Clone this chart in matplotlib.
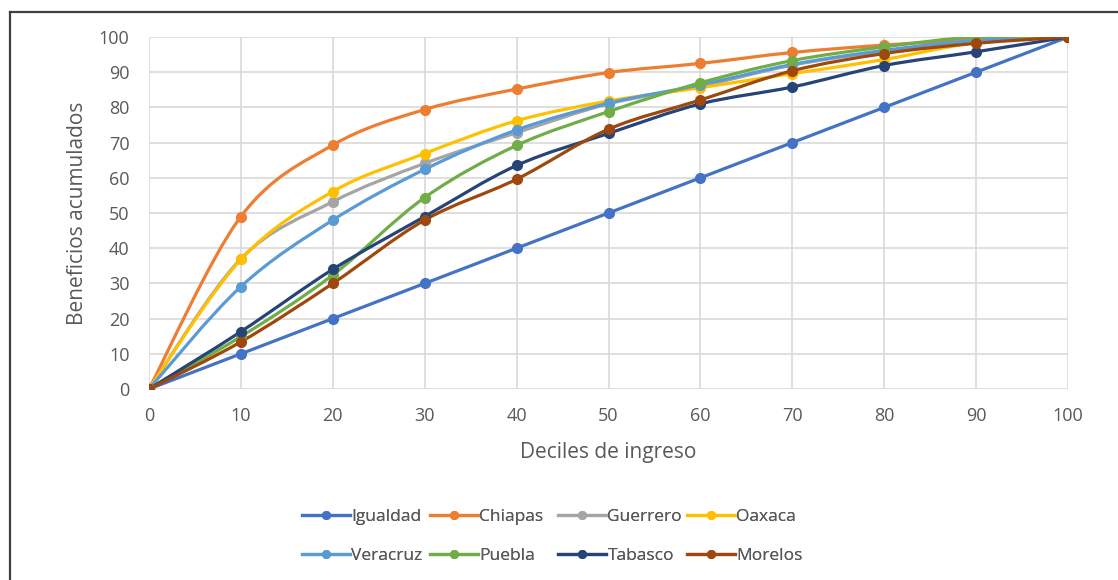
import matplotlib
matplotlib.use("Agg")
import matplotlib.pyplot as plt
import numpy as np
from matplotlib.lines import Line2D
from matplotlib.patches import PathPatch
from matplotlib.path import Path

plt.rcParams["font.family"] = ["Open Sans", "DejaVu Sans"]

deciles = [0, 10, 20, 30, 40, 50, 60, 70, 80, 90, 100]

igualdad = [0, 10, 20, 30, 40, 50, 60, 70, 80, 90, 100]
chiapas = [0, 49, 69.3, 79.4, 85.2, 89.9, 92.5, 95.6, 97.7, 99.2, 100]
guerrero = [0, 37, 53.2, 64.1, 72.8, 81, 86, 92, 96, 99, 100]
oaxaca = [0, 36.8, 56.1, 66.9, 76.2, 81.8, 85.6, 89.6, 93.6, 98.4, 100]
veracruz = [0, 29.1, 48, 62.4, 73.6, 81.2, 86.4, 92.2, 96.2, 99, 100]
puebla = [0, 14.9, 32.4, 54.4, 69.2, 78.8, 87, 93.3, 97.2, 100, 100]
tabasco = [0, 16.3, 34, 49, 63.5, 72.6, 81, 85.8, 91.9, 95.8, 100]
morelos = [0, 13.4, 30, 48, 59.6, 73.8, 82.1, 90.4, 95.3, 98.2, 100]

series_names = ["Igualdad", "Chiapas", "Guerrero", "Oaxaca",
                "Veracruz", "Puebla", "Tabasco", "Morelos"]
series_values = [igualdad, chiapas, guerrero, oaxaca,
                 veracruz, puebla, tabasco, morelos]
series_colors = ["#4472C4", "#ED7D31", "#A5A5A5", "#FFC000",
                 "#5B9BD5", "#70AD47", "#264478", "#9E480E"]

TEXT = "#595959"
GRID = "#D9D9D9"


def smooth_path(x, y):
    # Catmull-Rom style cubic Bezier through every point
    pts = np.column_stack([x, y]).astype(float)
    n = len(pts)
    verts = [pts[0]]
    codes = [Path.MOVETO]
    for i in range(n - 1):
        p0 = pts[max(i - 1, 0)]
        p1 = pts[i]
        p2 = pts[i + 1]
        p3 = pts[min(i + 2, n - 1)]
        c1 = p1 + (p2 - p0) / 6.0
        c2 = p2 - (p3 - p1) / 6.0
        verts += [c1, c2, p2]
        codes += [Path.CURVE4] * 3
    return Path(verts, codes)


fig = plt.figure(figsize=(11.18, 5.80), dpi=100)
ax = fig.add_axes([149 / 1118, 1 - 389 / 580, 919 / 1118, 352 / 580])

for name, values, color in zip(series_names, series_values, series_colors):
    patch = PathPatch(smooth_path(deciles, values), facecolor="none",
                      edgecolor=color, lw=2.3, capstyle="round",
                      joinstyle="round", zorder=3)
    ax.add_patch(patch)
    ax.plot(deciles, values, "o", color=color, ms=7, zorder=4, label=name)

ax.set_xlim(0, 100)
ax.set_ylim(0, 100)
ax.set_xticks(range(0, 101, 10))
ax.set_yticks(range(0, 101, 10))
ax.grid(True, color=GRID, lw=1.2)
ax.set_axisbelow(True)
for spine in ax.spines.values():
    spine.set_visible(False)
ax.tick_params(length=0, colors=TEXT, labelsize=13)
ax.tick_params(axis="x", pad=13)
ax.tick_params(axis="y", pad=14)
for lbl in ax.get_xticklabels() + ax.get_yticklabels():
    lbl.set_clip_on(False)

ax.set_xlabel("Deciles de ingreso", color=TEXT, fontsize=15, labelpad=12)
ax.set_ylabel("Beneficios acumulados", color=TEXT, fontsize=15, labelpad=8)

# legend laid out as four aligned columns of two rows
col_left = [302, 430, 558, 687]
for c, left in enumerate(col_left):
    handles = []
    for r in range(2):
        k = r * 4 + c
        handles.append(Line2D([], [], color=series_colors[k], lw=2.3,
                              marker="o", ms=5.5, label=series_names[k]))
    leg = fig.legend(handles=handles, loc="center left",
                     bbox_to_anchor=(left / 1118, 1 - 536.5 / 580),
                     frameon=False, fontsize=12.5, handlelength=2.75,
                     handletextpad=0.1, labelspacing=1.3, borderpad=0,
                     borderaxespad=0, labelcolor=TEXT)
    fig.add_artist(leg)

# chart frame on the top and left edges
fig.add_artist(Line2D([10 / 1118, 10 / 1118], [0, 1 - 12 / 580],
                      transform=fig.transFigure, color="#404040", lw=1.6))
fig.add_artist(Line2D([10 / 1118, 1], [1 - 12 / 580, 1 - 12 / 580],
                      transform=fig.transFigure, color="#404040", lw=1.6))

fig.savefig("out.png", dpi=100)
